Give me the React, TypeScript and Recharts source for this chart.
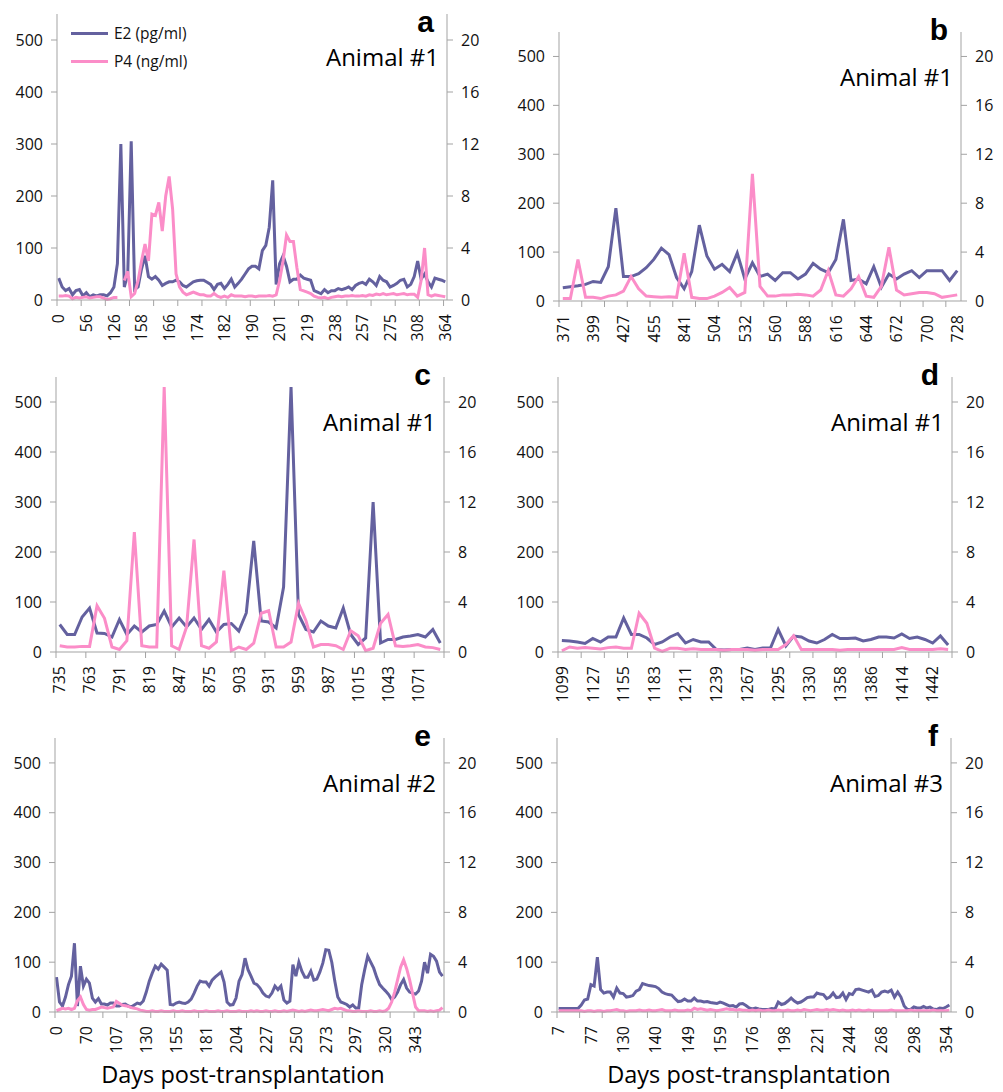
import React from 'react'
import { LineChart, Line, XAxis, YAxis, Legend } from 'recharts'

// ─── Panel a : Animal #1, days 0–364 ────────────────────────────
const A_LABELS = ['0', '56', '126', '158', '166', '174', '182', '190', '201', '219', '238', '257', '275', '308', '364']
const A_E2 = [
  42, 25, 18, 22, 10, 18, 20, 8, 14, 6,
  10, 8, 10, 10, 8, 14, 25, 70, 300, 25,
  50, 305, 20, 25, 60, 85, 45, 40, 45, 38,
  28, 32, 35, 35, 38, 35, 28, 25, 30, 35,
  37, 38, 38, 34, 30, 20, 30, 32, 22, 30,
  40, 25, 32, 40, 50, 60, 65, 65, 60, 95,
  105, 140, 230, 30, 70, 85, 65, 35, 40, 40,
  48, 42, 40, 38, 18, 15, 12, 20, 14, 18,
  18, 22, 20, 22, 25, 20, 28, 32, 34, 30,
  40, 35, 28, 45, 38, 35, 25, 28, 32, 38,
  40, 25, 30, 45, 75, 40, 50, 35, 25, 42,
  40, 38, 35,
]
const A_P4 = [
  0.3, 0.3, 0.35, 0.3, 0.1, 0.2, 0.15, 0.2, 0.25, 0.15,
  0.2, 0.25, 0.25, 0.15, 0.05, 0.1, 0.2, 0.2, null, 1.5,
  2.2, 0.25, 0.5, 1.5, 3.0, 4.3, 3.0, 6.6, 6.5, 7.5,
  5.3, 8.0, 9.5, 7.0, 2.0, 1.0, 0.6, 0.4, 0.5, 0.6,
  0.5, 0.4, 0.4, 0.3, 0.3, 0.5, 0.3, 0.2, 0.3, 0.2,
  0.4, 0.3, 0.3, 0.3, 0.25, 0.3, 0.3, 0.25, 0.3, 0.3,
  0.3, 0.35, 0.3, 0.4, 1.5, 3.0, 5.0, 4.5, 4.5, 2.5,
  0.8, 0.7, 0.6, 0.5, 0.3, 0.2, 0.15, 0.2, 0.1, 0.2,
  0.25, 0.3, 0.25, 0.3, 0.3, 0.35, 0.3, 0.3, 0.35, 0.3,
  0.4, 0.35, 0.45, 0.4, 0.5, 0.4, 0.45, 0.5, 0.4, 0.45,
  0.5, 0.4, 0.45, 0.45, 0.2, 1.5, 4.0, 0.4, 0.3, 0.4,
  0.35, 0.3, 0.25,
]

// ─── Panel b : Animal #1, days 371–728 ──────────────────────────
const B_LABELS = ['371', '399', '427', '455', '841', '504', '532', '560', '588', '616', '644', '672', '700', '728']
const B_E2 = [
  27, 29, 31, 34, 40, 38, 70, 190, 50, 50,
  56, 68, 85, 108, 95, 48, 25, 60, 155, 92,
  65, 75, 60, 98, 45, 78, 50, 55, 42, 58,
  58, 45, 55, 77, 65, 58, 85, 167, 42, 45,
  35, 70, 28, 55, 45, 55, 62, 48, 62, 62,
  62, 42, 62,
]
const B_P4 = [
  0.2, 0.2, 3.4, 0.3, 0.3, 0.2, 0.4, 0.5, 0.8, 2.0,
  1.0, 0.4, 0.35, 0.3, 0.35, 0.3, 3.9, 0.3, 0.2, 0.2,
  0.4, 0.7, 1.1, 0.4, 0.7, 10.4, 1.2, 0.4, 0.4, 0.5,
  0.5, 0.55, 0.5, 0.4, 0.9, 2.5, 0.5, 0.4, 1.0, 2.0,
  0.4, 0.3, 1.2, 4.4, 0.9, 0.5, 0.6, 0.7, 0.7, 0.6,
  0.3, 0.4, 0.5,
]

// ─── Panel c : Animal #1, days 735–1092 ─────────────────────────
const C_LABELS = ['735', '763', '791', '819', '847', '875', '903', '931', '959', '987', '1015', '1043', '1071']
const C_E2 = [
  55, 35, 35, 70, 88, 38, 37, 30, 65, 35,
  52, 40, 52, 55, 82, 50, 68, 50, 68, 45,
  65, 40, 55, 57, 42, 78, 222, 62, 60, 48,
  130, 530, 75, 45, 40, 62, 52, 48, 88, 35,
  15, 28, 300, 18, 25, 25, 30, 32, 35, 30,
  45, 18,
]
const C_P4 = [
  0.5, 0.4, 0.4, 0.45, 0.45, 3.7, 2.7, 0.4, 0.2, 0.9,
  9.6, 0.5, 0.4, 0.4, 21.2, 0.5, 0.2, 2.0, 9.0, 0.5,
  0.3, 0.8, 6.5, 0.1, 0.4, 0.2, 0.7, 3.1, 3.3, 0.4,
  0.4, 0.8, 3.9, 2.5, 0.4, 0.6, 0.6, 0.5, 0.2, 1.7,
  1.3, 0.1, 0.3, 2.3, 3.0, 0.5, 0.45, 0.5, 0.6, 0.4,
  0.35, 0.2,
]

// ─── Panel d : Animal #1, days 1099–1450 ────────────────────────
const D_LABELS = ['1099', '1127', '1155', '1183', '1211', '1239', '1267', '1295', '1330', '1358', '1386', '1414', '1442']
const D_E2 = [
  23, 22, 20, 17, 27, 20, 30, 30, 68, 35,
  35, 28, 15, 20, 30, 37, 18, 25, 20, 20,
  5, 4, 5, 5, 8, 5, 8, 8, 45, 12,
  32, 30, 22, 18, 25, 35, 27, 27, 28, 22,
  25, 30, 30, 28, 36, 27, 30, 25, 18, 32,
  14,
]
const D_P4 = [
  0.1, 0.4, 0.3, 0.35, 0.3, 0.25, 0.35, 0.4, 0.3, 0.3,
  3.1, 2.3, 0.3, 0.05, 0.3, 0.3, 0.2, 0.25, 0.2, 0.2,
  0.2, 0.15, 0.2, 0.2, 0.2, 0.15, 0.2, 0.2, 0.2, 0.6,
  1.3, 0.2, 0.2, 0.2, 0.2, 0.2, 0.15, 0.2, 0.2, 0.2,
  0.2, 0.2, 0.2, 0.2, 0.35, 0.2, 0.2, 0.2, 0.2, 0.25,
  0.2,
]

// ─── Panel e : Animal #2 ────────────────────────────────────────
const E_LABELS = ['0', '70', '107', '130', '155', '181', '204', '227', '250', '273', '297', '320', '343']
const E_E2 = [
  70, 20, 12, 30, 55, 72, 138, 12, 92, 52,
  66, 58, 28, 20, 27, 16, 16, 14, 18, 18,
  12, 12, 15, 16, 12, 10, 14, 18, 16, 22,
  40, 62, 78, 92, 86, 96, 90, 84, 15, 14,
  18, 20, 18, 17, 20, 26, 38, 52, 62, 60,
  60, 52, 64, 70, 75, 80, 60, 20, 14, 15,
  28, 62, 75, 108, 85, 72, 58, 55, 48, 38,
  32, 30, 38, 52, 45, 52, 24, 18, 22, 95,
  72, 100, 82, 70, 70, 82, 64, 66, 80, 98,
  125, 124, 100, 62, 30, 20, 18, 15, 10, 14,
  8, 8, 55, 85, 112, 100, 88, 70, 55, 48,
  42, 35, 25, 30, 40, 55, 65, 48, 40, 38,
  36, 42, 62, 100, 78, 116, 112, 102, 80, 72,
]
const E_P4 = [
  0.1, 0.2, 0.3, 0.25, 0.3, 0.2, 0.3, 0.9, 1.2, 0.6,
  0.2, 0.15, 0.2, 0.2, 0.3, 0.4, 0.35, 0.3, 0.35, 0.4,
  0.85, 0.7, 0.55, 0.5, 0.45, 0.35, 0.3, 0.25, 0.15, 0.1,
  0.05, 0.05, 0.1, 0.05, 0.05, 0.1, 0.05, 0.05, 0.05, 0.1,
  0.05, 0.05, 0.1, 0.05, 0.05, 0.05, 0.1, 0.05, 0.05, 0.05,
  0.1, 0.05, 0.05, 0.05, 0.1, 0.05, 0.05, 0.1, 0.05, 0.05,
  0.05, 0.1, 0.05, 0.05, 0.05, 0.1, 0.05, 0.1, 0.05, 0.05,
  0.1, 0.05, 0.05, 0.1, 0.05, 0.05, 0.1, 0.05, 0.1, 0.15,
  0.1, 0.05, 0.1, 0.05, 0.1, 0.15, 0.1, 0.1, 0.15, 0.2,
  0.15, 0.1, 0.2, 0.3, 0.25, 0.3, 0.2, 0.1, 0.1, 0.05,
  0.05, 0.1, 0.05, 0.05, 0.05, 0.1, 0.05, 0.05, 0.1, 0.05,
  0.1, 0.3, 0.8, 1.6, 2.6, 3.6, 4.2, 3.5, 2.6, 1.5,
  0.4, 0.1, 0.1, 0.1, 0.05, 0.1, 0.05, 0.1, 0.15, 0.35,
]

// ─── Panel f : Animal #3 ────────────────────────────────────────
const F_LABELS = ['7', '77', '130', '140', '149', '159', '176', '198', '221', '244', '268', '298', '354']
const F_E2 = [
  7, 7, 7, 7, 7, 7, 7, 14, 24, 26,
  55, 52, 110, 45, 38, 40, 40, 30, 48, 38,
  37, 30, 31, 33, 42, 45, 57, 55, 53, 52,
  51, 47, 40, 37, 35, 34, 27, 21, 22, 26,
  22, 22, 28, 22, 22, 20, 21, 19, 18, 17,
  20, 18, 15, 12, 13, 10, 16, 17, 13, 8,
  6, 8, 6, 5, 5, 5, 7, 6, 20, 15,
  17, 22, 28, 22, 18, 20, 24, 29, 30, 30,
  38, 36, 35, 27, 30, 38, 29, 30, 38, 25,
  37, 35, 45, 46, 44, 42, 40, 44, 31, 33,
  40, 42, 40, 44, 30, 40, 30, 12, 5, 5,
  10, 8, 8, 11, 8, 10, 6, 5, 8, 7,
  10, 14,
]
const F_P4 = [
  0.1, 0.1, 0.1, 0.1, 0.1, 0.1, 0.1, 0.1, 0.05, 0.1,
  0.1, 0.05, 0.1, 0.1, 0.05, 0.1, 0.1, 0.15, 0.2, 0.1,
  0.1, 0.05, 0.1, 0.1, 0.1, 0.15, 0.1, 0.1, 0.15, 0.1,
  0.1, 0.15, 0.2, 0.1, 0.1, 0.1, 0.15, 0.1, 0.1, 0.1,
  0.15, 0.1, 0.3, 0.2, 0.25, 0.2, 0.15, 0.2, 0.15, 0.1,
  0.15, 0.2, 0.25, 0.2, 0.2, 0.15, 0.2, 0.15, 0.15, 0.1,
  0.15, 0.1, 0.15, 0.1, 0.1, 0.15, 0.1, 0.1, 0.15, 0.1,
  0.1, 0.15, 0.1, 0.1, 0.15, 0.1, 0.2, 0.15, 0.1, 0.15,
  0.2, 0.15, 0.15, 0.2, 0.15, 0.2, 0.15, 0.1, 0.15, 0.1,
  0.1, 0.15, 0.1, 0.15, 0.1, 0.1, 0.15, 0.1, 0.1, 0.1,
  0.1, 0.1, 0.1, 0.15, 0.1, 0.1, 0.1, 0.1, 0.1, 0.15,
  0.1, 0.1, 0.1, 0.1, 0.1, 0.1, 0.15, 0.1, 0.1, 0.1,
  0.1, 0.15,
]

const E2_TICKS = [0, 100, 200, 300, 400, 500]
const P4_TICKS = [0, 4, 8, 12, 16, 20]

const E2_COLOR = '#64619f'
const P4_COLOR = '#fb8dc8'
const AXIS_COLOR = '#a3a3a3'
const TEXT_COLOR = '#111'
const FONT = '"Open Sans", "Noto Sans", sans-serif'
const TICK_FONT = 16

type Box = { left: number; top: number; right: number; bottom: number }

interface PanelProps {
  e2: number[]
  p4: (number | null)[]
  labels: string[]
  labelEvery: number
  markEvery: number
  box: Box
  letter: string
  animal: string
  legend?: boolean
}

const renderLegend = (props: any) => (
  <div style={{ fontFamily: FONT, fontSize: 15.5, color: TEXT_COLOR }}>
    {(props.payload || []).map((entry: any) => (
      <div key={entry.value} style={{ display: 'flex', alignItems: 'center', height: 28 }}>
        <span style={{ display: 'inline-block', width: 37, height: 3, background: entry.color, marginRight: 6 }} />
        <span>{entry.value}</span>
      </div>
    ))}
  </div>
)

function Panel({ e2, p4, labels, labelEvery, markEvery, box, letter, animal, legend }: PanelProps) {
  const n = e2.length
  const data = e2.map((v, i) => ({ i, e2: v, p4: p4[i] }))
  const plotW = box.right - box.left
  const plotH = box.bottom - box.top
  const axisW = 55
  const xAxisH = 50

  // tick marks sit on category boundaries, labels on the categories themselves
  const ticks: number[] = []
  for (let t = -0.5; t <= n - 0.5; t += markEvery) ticks.push(t)
  labels.forEach((_, k) => ticks.push(k * labelEvery))

  const XTick = (props: any) => {
    const { x, y, payload } = props
    const v = payload.value
    if (Number.isInteger(v)) {
      const ty = y + 14
      return (
        <text x={x} y={ty} transform={`rotate(-90, ${x}, ${ty})`} textAnchor="end" dy="0.36em"
          fontSize={TICK_FONT} fill={TEXT_COLOR} fontFamily={FONT}>
          {labels[v / labelEvery]}
        </text>
      )
    }
    return <line x1={x} y1={y} x2={x} y2={y + 6} stroke={AXIS_COLOR} strokeWidth={1} />
  }

  return (
    <div style={{ position: 'absolute', left: box.left - axisW, top: box.top }}>
      <LineChart width={plotW + axisW * 2} height={plotH + xAxisH} data={data}
        margin={{ top: 0, right: 0, bottom: 0, left: 0 }}>
        <XAxis dataKey="i" type="number" domain={[-0.5, n - 0.5]} allowDataOverflow ticks={ticks}
          interval={0} tick={XTick} tickLine={false} tickSize={0} tickMargin={0} height={xAxisH}
          stroke={AXIS_COLOR} />
        <YAxis yAxisId="left" domain={[0, 550]} ticks={E2_TICKS} width={axisW} tickSize={6} tickMargin={8}
          stroke={AXIS_COLOR} tick={{ fill: TEXT_COLOR, fontSize: TICK_FONT, fontFamily: FONT }} />
        <YAxis yAxisId="right" orientation="right" domain={[0, 22]} ticks={P4_TICKS} width={axisW} tickSize={6}
          tickMargin={8} stroke={AXIS_COLOR} tick={{ fill: TEXT_COLOR, fontSize: TICK_FONT, fontFamily: FONT }} />
        {legend && (
          <Legend layout="horizontal" align="center" verticalAlign="middle" content={renderLegend}
            wrapperStyle={{ left: 69, top: 5, width: 'auto', height: 'auto' }} />
        )}
        <Line yAxisId="left" dataKey="e2" name="E2 (pg/ml)" type="linear" stroke={E2_COLOR} strokeWidth={3}
          dot={false} isAnimationActive={false} />
        <Line yAxisId="right" dataKey="p4" name="P4 (ng/ml)" type="linear" stroke={P4_COLOR} strokeWidth={3}
          dot={false} isAnimationActive={false} connectNulls={false} />
      </LineChart>
      <svg width={plotW + axisW * 2} height={80}
        style={{ position: 'absolute', left: 0, top: 0, pointerEvents: 'none', overflow: 'visible' }}>
        <text x={axisW + plotW - 13} y={box.top < 30 ? 18 : 8} textAnchor="end" fontSize={30} fontWeight="bold"
          fontFamily='"Liberation Sans", Arial, sans-serif' fill="#000">
          {letter}
        </text>
        <text x={axisW + plotW - 8} y={box.top < 30 ? 52 : 54} textAnchor="end" fontSize={24} fontFamily={FONT}
          fill="#000">
          {animal}
        </text>
      </svg>
    </div>
  )
}

export default function App() {
  return (
    <div style={{ position: 'absolute', left: 0, top: 0, width: 1003, height: 1092, background: '#fff' }}>
      <Panel e2={A_E2} p4={A_P4} labels={A_LABELS} labelEvery={8} markEvery={7}
        box={{ left: 57, top: 14, right: 447, bottom: 300 }} letter="a" animal="Animal #1" legend />
      <Panel e2={B_E2} p4={B_P4} labels={B_LABELS} labelEvery={4} markEvery={3}
        box={{ left: 559, top: 32, right: 961, bottom: 301 }} letter="b" animal="Animal #1" />
      <Panel e2={C_E2} p4={C_P4} labels={C_LABELS} labelEvery={4} markEvery={4}
        box={{ left: 56, top: 377, right: 444, bottom: 652 }} letter="c" animal="Animal #1" />
      <Panel e2={D_E2} p4={D_P4} labels={D_LABELS} labelEvery={4} markEvery={3}
        box={{ left: 558, top: 377, right: 952, bottom: 652 }} letter="d" animal="Animal #1" />
      <Panel e2={E_E2} p4={E_P4} labels={E_LABELS} labelEvery={10} markEvery={8}
        box={{ left: 55, top: 738, right: 444, bottom: 1012 }} letter="e" animal="Animal #2" />
      <Panel e2={F_E2} p4={F_P4} labels={F_LABELS} labelEvery={10} markEvery={7}
        box={{ left: 557, top: 738, right: 951, bottom: 1012 }} letter="f" animal="Animal #3" />
      <svg width={1003} height={1092} style={{ position: 'absolute', left: 0, top: 0, pointerEvents: 'none' }}>
        <text x={243} y={1083} textAnchor="middle" fontSize={23.5} fontFamily={FONT} fill="#000">
          Days post-transplantation
        </text>
        <text x={749} y={1083} textAnchor="middle" fontSize={23.5} fontFamily={FONT} fill="#000">
          Days post-transplantation
        </text>
      </svg>
    </div>
  )
}
